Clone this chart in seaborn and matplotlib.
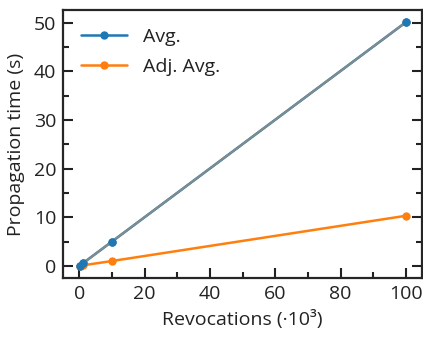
import numpy as np
import pandas as pd
import seaborn as sns
from matplotlib import pyplot as plt
from matplotlib.ticker import AutoMinorLocator

# revocations in thousands
revocations = [0.1, 1, 10, 100]
avg = [0.05, 0.5, 5.0, 50.1]
adj_avg = [0.01, 0.1, 1.0, 10.3]

df = pd.DataFrame({"Revocations": revocations * 2,
                   "Time": avg + adj_avg,
                   "Kind": ["Avg."] * 4 + ["Adj. Avg."] * 4})

sns.set_style("ticks")
plt.rcParams["font.family"] = ["Open Sans", "DejaVu Sans"]
plt.rcParams["text.color"] = "#222222"
plt.rcParams["axes.labelcolor"] = "#222222"
plt.rcParams["xtick.color"] = "#222222"
plt.rcParams["ytick.color"] = "#222222"

fig = plt.figure(figsize=(4.23, 3.37), dpi=100)
ax = fig.add_axes([0.149, 0.175, 0.849, 0.795])

sns.lineplot(data=df, x="Revocations", y="Time", hue="Kind",
             palette=["#1f77b4", "#ff7f0e"], marker="o", markersize=6,
             markeredgewidth=0, linewidth=1.8, ax=ax)

# linear fit of the average
k, b = np.polyfit(revocations, avg, 1)
fx = np.array([0, 100])
ax.plot(fx, k * fx + b, color="#7f8c8d", linewidth=1.6, zorder=2.5)
ax.scatter(revocations, avg, color="#1f77b4", s=36, zorder=3, linewidth=0)

ax.set_xlim(-5, 105)
ax.set_ylim(-2.5, 52.6)
ax.set_xticks([0, 20, 40, 60, 80, 100])
ax.set_yticks([0, 10, 20, 30, 40, 50])
ax.xaxis.set_minor_locator(AutoMinorLocator(2))
ax.yaxis.set_minor_locator(AutoMinorLocator(2))
ax.tick_params(which="both", direction="in", left=True, right=True,
               bottom=True, top=False, width=1.5, labelsize=14, pad=5)
ax.tick_params(which="major", length=7)
ax.tick_params(which="minor", length=4)
for s in ax.spines.values():
    s.set_linewidth(1.6)
    s.set_visible(True)

ax.set_xlabel("Revocations (·10³)", fontsize=14, labelpad=5)
ax.set_ylabel("Propagation time (s)", fontsize=14, labelpad=6)
ax.legend(frameon=False, fontsize=14, loc="upper left", handlelength=2.4,
          labelspacing=0.65, borderaxespad=0.5)

fig.savefig("out.png", dpi=100)
